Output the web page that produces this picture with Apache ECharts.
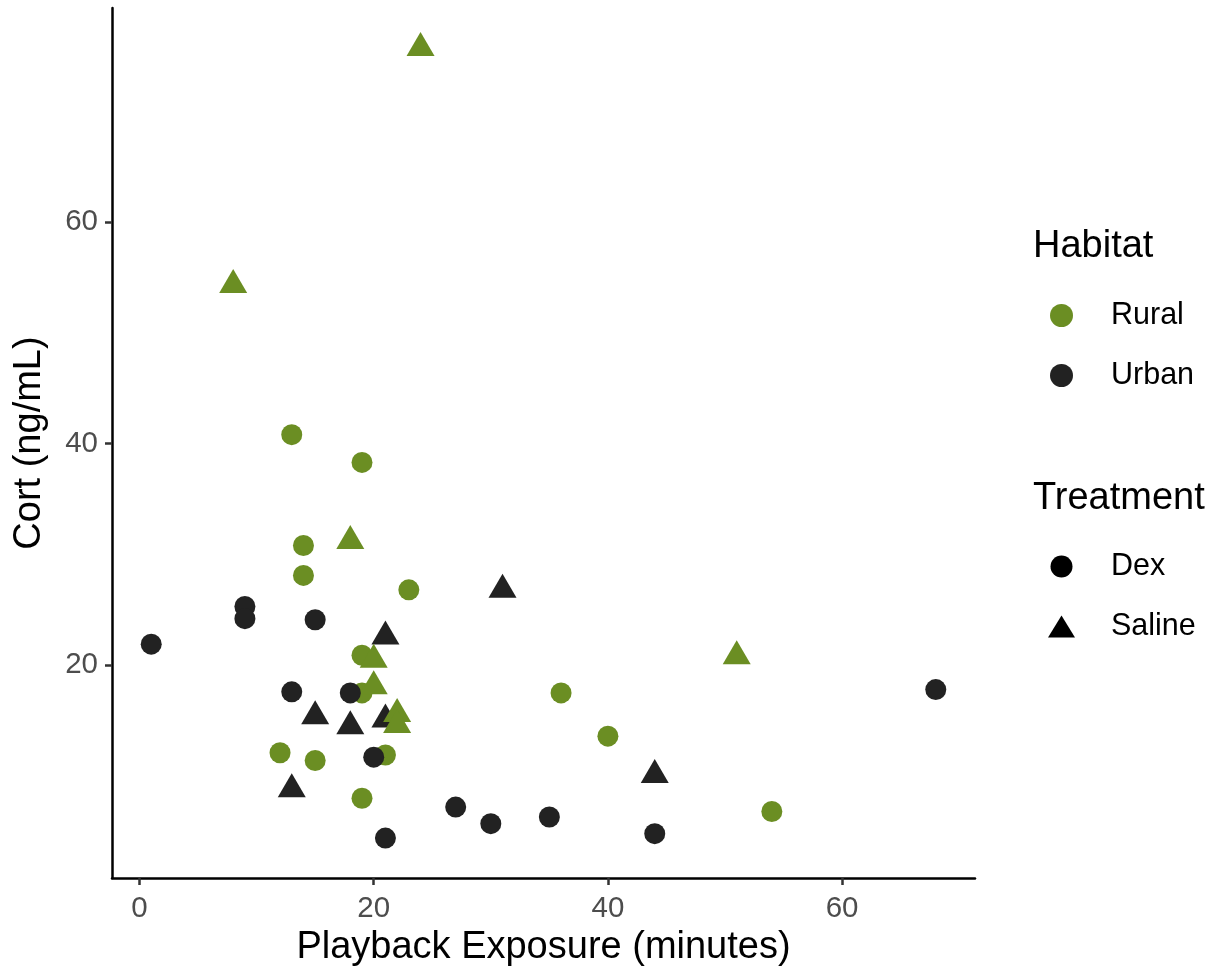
<!DOCTYPE html>
<html>
<head>
<meta charset="utf-8">
<script src="https://cdn.jsdelivr.net/npm/echarts@6/dist/echarts.min.js"></script>
<style>
html,body{margin:0;padding:0;background:#fff;}
#chart{width:1219px;height:973px;}
</style>
</head>
<body>
<div id="chart"></div>
<script>
// Data: [Playback Exposure (minutes), Cort (ng/mL)]
const ruralDex = [[13,40.8],[19,38.3],[14,30.8],[14,28.1],[23,26.8],[19,20.9],[19,17.5],[12,12.1],[15,11.4],[21,11.9],[19,8.0],[36,17.5],[40,13.6],[54,6.8]];
const ruralSaline = [[24,75.7],[8,54.3],[18,31.2],[20,20.5],[20,18.1],[22,15.6],[22,14.6],[51,20.8]];
const urbanDex = [[9,25.3],[9,24.2],[15,24.1],[1,21.9],[13,17.6],[18,17.5],[20,11.7],[27,7.2],[30,5.7],[21,4.4],[68,17.8],[35,6.3],[44,4.8]];
const urbanSaline = [[31,26.8],[21,22.6],[15,15.4],[18,14.5],[21,15.1],[13,8.8],[44,10.1]];
const xTicks = [0,20,40,60];
const yTicks = [20,40,60];
const habitatLevels = ['Rural','Urban'];
const treatmentLevels = ['Dex','Saline'];

const GREEN = '#6B8E23';
const DARK = '#222222';
const FONT = 'Liberation Sans, Arial, Helvetica, sans-serif';

const circleSize = 21;
const triSize = [28, 24];
const triOffset = [0, -4];

function dataSeries(name, data, color, tri) {
  return {
    name: name, type: 'scatter', data: data,
    symbol: tri ? 'triangle' : 'circle',
    symbolSize: tri ? triSize : circleSize,
    symbolOffset: tri ? triOffset : [0,0],
    itemStyle: {color: color, opacity: 1},
    emphasis: {disabled: true}
  };
}
function legendSeries(name, color) {
  return {name: name, type: 'scatter', data: [], itemStyle: {color: color, opacity: 1}};
}

const chart = echarts.init(document.getElementById('chart'), null, {renderer: 'canvas'});
chart.setOption({
  animation: false,
  backgroundColor: '#ffffff',
  textStyle: {fontFamily: FONT},
  grid: {left: 112, right: 244, top: 8, bottom: 95, containLabel: false},
  title: [
    {text: 'Habitat', left: 1033, top: 228, textStyle: {fontSize: 38, fontWeight: 'normal', color: '#000', fontFamily: FONT}, padding: 0},
    {text: 'Treatment', left: 1033, top: 480, textStyle: {fontSize: 38, fontWeight: 'normal', color: '#000', fontFamily: FONT}, padding: 0}
  ],
  legend: [
    {
      data: [{name: 'Rural', icon: 'circle'}, {name: 'Urban', icon: 'circle'}],
      orient: 'vertical', left: 1050, top: 300, padding: 0,
      itemWidth: 23, itemHeight: 23, itemGap: 29,
      selectedMode: false,
      itemStyle: {opacity: 1},
      textStyle: {fontSize: 30.5, color: '#000', fontFamily: FONT, padding: [0,0,0,33]}
    },
    {
      data: [{name: 'Dex', icon: 'circle'}, {name: 'Saline', icon: 'triangle'}],
      orient: 'vertical', left: 1048, top: 551, padding: 0,
      itemWidth: 27, itemHeight: 22, itemGap: 29,
      selectedMode: false,
      itemStyle: {opacity: 1},
      textStyle: {fontSize: 30.5, color: '#000', fontFamily: FONT, padding: [0,0,0,31]}
    }
  ],
  xAxis: {
    type: 'value', min: -2.35, max: 71.35,
    name: 'Playback Exposure (minutes)', nameLocation: 'middle', nameGap: 51,
    nameTextStyle: {fontSize: 38, color: '#000', fontFamily: FONT},
    axisLine: {show: true, onZero: false, lineStyle: {color: '#000', width: 2.5}},
    axisTick: {show: true, length: 7, lineStyle: {color: '#333', width: 2.5}, customValues: xTicks},
    axisLabel: {fontSize: 29.5, color: '#4D4D4D', margin: 16, customValues: xTicks, fontFamily: FONT},
    splitLine: {show: false}
  },
  yAxis: {
    type: 'value', min: 0.8, max: 79.3,
    name: 'Cort (ng/mL)', nameLocation: 'middle', nameGap: 63,
    nameTextStyle: {fontSize: 38, color: '#000', fontFamily: FONT},
    axisLine: {show: true, onZero: false, lineStyle: {color: '#000', width: 2.5}},
    axisTick: {show: true, length: 7, lineStyle: {color: '#333', width: 2.5}, customValues: yTicks},
    axisLabel: {fontSize: 29.5, color: '#4D4D4D', margin: 14, customValues: yTicks, fontFamily: FONT},
    splitLine: {show: false}
  },
  series: [
    dataSeries('Urban Saline', urbanSaline, DARK, true),
    dataSeries('Rural Dex', ruralDex, GREEN, false),
    dataSeries('Rural Saline', ruralSaline, GREEN, true),
    dataSeries('Urban Dex', urbanDex, DARK, false),
    legendSeries(habitatLevels[0], GREEN),
    legendSeries(habitatLevels[1], DARK),
    legendSeries(treatmentLevels[0], '#000'),
    legendSeries(treatmentLevels[1], '#000')
  ]
});
</script>
</body>
</html>
